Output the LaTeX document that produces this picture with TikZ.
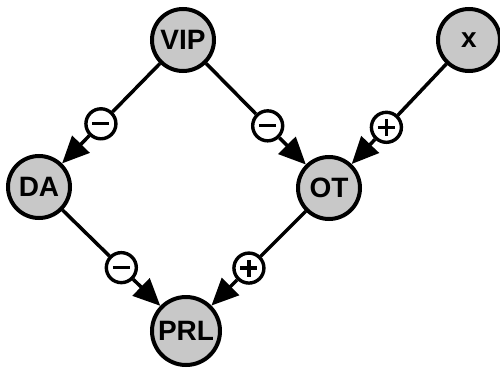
\documentclass[tikz,border=0pt]{standalone}
\usepackage{fontspec}
\setmainfont{Liberation Sans}
\usetikzlibrary{arrows.meta,calc}
\definecolor{nodegray}{RGB}{200,200,200}
\tikzset{
  species/.style={circle, draw, line width=4pt, fill=nodegray, minimum size=62pt,
    inner sep=1pt, font=\fontsize{28}{28}\selectfont\bfseries},
  signbox/.style={circle, draw, line width=3.4pt, fill=white, minimum size=30pt, inner sep=0pt},
  link/.style={line width=3.5pt},
  effect/.style={line width=3.5pt, -{Triangle[length=27pt,width=24pt]}},
  bar/.style={line width=3.2pt}
}
\newcommand{\minussign}[1]{\draw[bar] ($(#1)+(-8.5pt,0)$) -- ($(#1)+(8.5pt,0)$);}
\newcommand{\plussign}[1]{\draw[bar] ($(#1)+(-8.5pt,0)$) -- ($(#1)+(8.5pt,0)$);
  \draw[bar] ($(#1)+(0,-8.5pt)$) -- ($(#1)+(0,8.5pt)$);}
\begin{document}
\begin{tikzpicture}[x=1pt,y=-1pt]
  \useasboundingbox (0,0) rectangle (500,369);
  % species
  \node[species] (VIP) at (183,40) {VIP};
  \node[species] (X)   at (469,40) {x};
  \node[species] (DA)  at (39,187) {DA};
  \node[species] (OT)  at (329,188) {OT};
  \node[species, minimum size=68pt] (PRL) at (186,331) {PRL};
  % sign markers along the regulatory links
  \node[signbox] (s1) at ($(VIP)!0.57!(DA)$) {};
  \node[signbox] (s2) at ($(VIP)!0.58!(OT)$) {};
  \node[signbox] (s3) at ($(X)!0.59!(OT)$) {};
  \node[signbox] (s4) at ($(DA)!0.56!(PRL)$) {};
  \node[signbox] (s5) at ($(OT)!0.56!(PRL)$) {};
  % links
  \draw[link] (VIP) -- (s1); \draw[effect] (s1) -- (DA);
  \draw[link] (VIP) -- (s2); \draw[effect] (s2) -- (OT);
  \draw[link] (X) -- (s3);   \draw[effect] (s3) -- (OT);
  \draw[link] (DA) -- (s4);  \draw[effect] (s4) -- (PRL);
  \draw[link] (OT) -- (s5);  \draw[effect] (s5) -- (PRL);
  % signs
  \minussign{s1}
  \minussign{s2}
  \plussign{s3}
  \minussign{s4}
  \plussign{s5}
\end{tikzpicture}
\end{document}
